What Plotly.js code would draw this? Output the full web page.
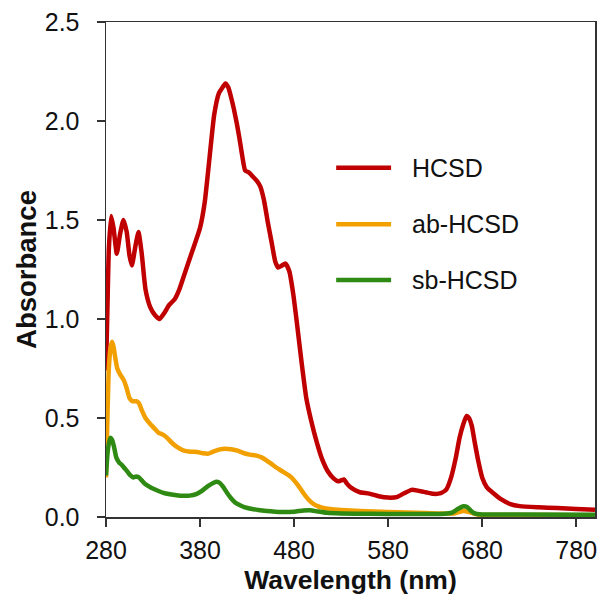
<!DOCTYPE html>
<html>
<head>
<meta charset="utf-8">
<script src="https://cdn.plot.ly/plotly-3.0.1.min.js"></script>
<style>html,body{margin:0;padding:0;background:#fff}#chart{width:601px;height:601px}</style>
</head>
<body>
<div id="chart"></div>
<script>
const seriesNames = ["HCSD", "ab-HCSD", "sb-HCSD"];
const seriesColors = ["#C00000", "#F2A000", "#2E8A12"];

const hcsdX = [280,281.5,283,285.5,288,291.5,295,298.5,302,305,307.5,311,314.5,318,322,327,332,337,342,347,353,358,363,368,373,380,385,390,395,400,404,407,410,413,416,419,422,425,428,432,436,440,444,448,452,456,460,463,467,471,475,479,483,488,493,498,504,510,516,522,527,530,533,536,540,545,550,560,570,580,590,597,605,612,620,628,636,642,647,652,656,660,663.5,666,669,672,676,680,685,692,700,710,720,740,760,780,800];
const hcsdY = [0.74,1.05,1.35,1.52,1.46,1.33,1.43,1.50,1.44,1.32,1.27,1.36,1.44,1.33,1.15,1.06,1.02,1.00,1.03,1.07,1.10,1.15,1.22,1.29,1.36,1.46,1.59,1.81,2.03,2.14,2.17,2.19,2.17,2.12,2.06,1.99,1.91,1.82,1.75,1.74,1.72,1.70,1.67,1.60,1.49,1.39,1.29,1.26,1.27,1.28,1.24,1.13,0.98,0.78,0.60,0.49,0.38,0.29,0.23,0.195,0.18,0.185,0.19,0.17,0.15,0.135,0.125,0.118,0.105,0.098,0.102,0.12,0.137,0.133,0.125,0.117,0.12,0.14,0.2,0.3,0.4,0.47,0.51,0.5,0.46,0.38,0.28,0.2,0.15,0.12,0.09,0.065,0.055,0.049,0.045,0.041,0.037];

const abX = [280,281.5,283,285,286.5,288,290,292,295,299,302,305,308,312,315,318,322,327,332,336,341,345,350,355,362,370,377,383,389,394,400,407,413,420,427,433,440,446,451,456,461,466,471,476,480,485,490,495,500,505,510,518,530,550,580,620,650,660,666,675,700,750,800];
const abY = [0.2,0.5,0.75,0.86,0.885,0.86,0.8,0.75,0.72,0.69,0.65,0.6,0.585,0.585,0.575,0.54,0.5,0.47,0.445,0.425,0.415,0.4,0.375,0.355,0.337,0.33,0.328,0.322,0.32,0.33,0.34,0.345,0.342,0.335,0.322,0.315,0.31,0.3,0.285,0.268,0.25,0.235,0.22,0.205,0.185,0.155,0.12,0.09,0.068,0.055,0.047,0.04,0.035,0.03,0.025,0.02,0.018,0.03,0.025,0.012,0.01,0.01,0.008];

const sbX = [280,282,284.5,286.5,288.5,291,294,297,300,303,306,309,312,315,318,322,328,334,341,348,355,362,369,376,382,388,394,398,401,405,409,413,417,421,427,434,442,451,460,470,480,490,497,505,515,530,560,600,640,648,654,660,664,668,672,680,720,800];
const sbY = [0.21,0.34,0.40,0.39,0.355,0.3,0.275,0.262,0.245,0.228,0.21,0.2,0.205,0.2,0.185,0.165,0.148,0.135,0.122,0.115,0.11,0.107,0.108,0.116,0.132,0.155,0.172,0.178,0.172,0.15,0.12,0.095,0.075,0.063,0.05,0.042,0.035,0.03,0.027,0.025,0.027,0.033,0.034,0.028,0.021,0.018,0.016,0.015,0.016,0.022,0.04,0.054,0.05,0.032,0.018,0.013,0.012,0.011];

const xTickVals = [280,380,480,580,680,780];
const yTickVals = [0,0.5,1.0,1.5,2.0,2.5];
const yTickText = ["0.0","0.5","1.0","1.5","2.0","2.5"];

const xs = [hcsdX, abX, sbX];
const ys = [hcsdY, abY, sbY];
const FONT = "Liberation Sans, Arial, sans-serif";

const traces = seriesNames.map((n, i) => ({
  x: xs[i], y: ys[i], name: n, type: "scatter", mode: "lines",
  line: {color: seriesColors[i], width: 4.5, shape: "spline", smoothing: 0.5},
  showlegend: false, hoverinfo: "skip"
}));

// manual legend
const legY = [0.7057, 0.5913, 0.4788];
const shapes = seriesNames.map((n, i) => ({
  type: "line", xref: "paper", yref: "paper",
  x0: 0.4707, x1: 0.583, y0: legY[i], y1: legY[i],
  line: {color: seriesColors[i], width: 4.5}
}));
const annotations = seriesNames.map((n, i) => ({
  xref: "paper", yref: "paper", x: 0.622, y: legY[i],
  xanchor: "left", yanchor: "middle", showarrow: false, text: n,
  font: {family: FONT, size: 25, color: "#111"}
}));

const axisCommon = {
  showgrid: false, zeroline: false, showline: true, mirror: true,
  linecolor: "#333", linewidth: 1.5, ticks: "outside", ticklen: 8,
  tickcolor: "#333", tickwidth: 1.5,
  tickfont: {family: FONT, size: 25, color: "#111"}
};

const layout = {
  width: 601, height: 601,
  margin: {l: 106, r: 6, t: 22, b: 84},
  paper_bgcolor: "#fff", plot_bgcolor: "#fff",
  showlegend: false,
  xaxis: Object.assign({}, axisCommon, {
    range: [280, 800], tickvals: xTickVals, ticktext: xTickVals.map(String),
    ticklabelstandoff: 2,
    title: {text: "<b>Wavelength (nm)</b>", font: {family: FONT, size: 26.5, color: "#111"}, standoff: 8}
  }),
  yaxis: Object.assign({}, axisCommon, {
    range: [0, 2.5], tickvals: yTickVals, ticktext: yTickText,
    ticklabelstandoff: 12,
    title: {text: "<b>Absorbance</b>", font: {family: FONT, size: 27.5, color: "#111"}, standoff: 0}
  }),
  shapes: shapes, annotations: annotations
};

Plotly.newPlot("chart", traces, layout, {staticPlot: true, displayModeBar: false});
</script>
</body>
</html>
